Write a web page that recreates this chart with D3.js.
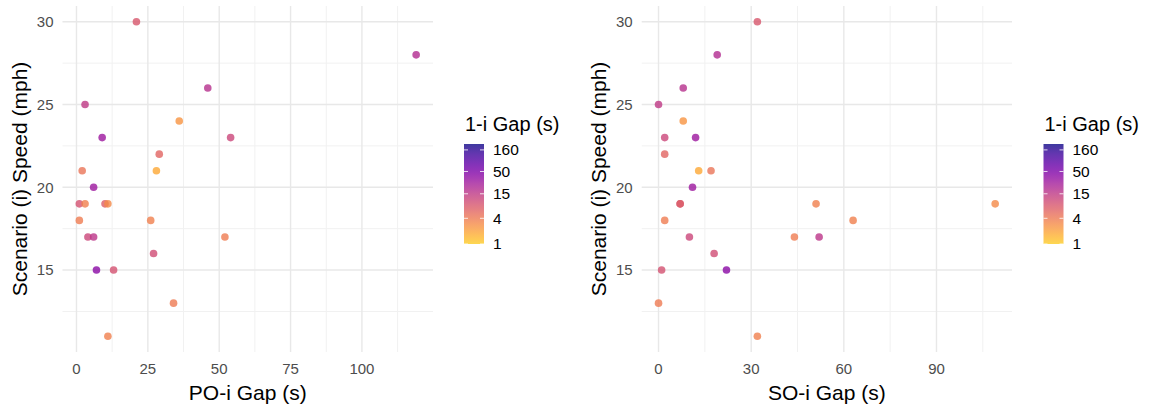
<!DOCTYPE html>
<html><head><meta charset="utf-8">
<script src="https://cdn.jsdelivr.net/npm/d3@7"></script>
<style>body{margin:0;background:#fff}svg{display:block;font-family:"Liberation Sans",Arial,sans-serif}</style>
</head><body>
<svg id="c" width="1150" height="406"></svg>
<script>
// Data (one row per observation)
const speed   = [30, 28, 26, 25, 24, 23, 23, 22, 21, 21, 20, 19, 19, 19, 19, 18, 18, 17, 17, 17, 16, 15, 15, 13, 11];
const poGap   = [21, 119, 46, 3, 36, 9, 54, 29, 2, 28, 6, 1, 3, 10, 11, 1, 26, 4, 6, 52, 27, 7, 13, 34, 11];
const soGap   = [32, 19, 8, 0, 8, 12, 2, 2, 17, 13, 11, 7, 51, 7, 109, 2, 63, 10, 52, 44, 18, 22, 1, 0, 32];
const gap1i   = [8, 20, 18, 15, 2.5, 30, 11, 6, 4.5, 1.8, 30, 9, 3.5, 7, 3, 3.8, 3.5, 11, 16, 3.8, 10, 40, 9, 4, 3.5];
const yTicks  = [15, 20, 25, 30];
const xTicksPO = [0, 25, 50, 75, 100];
const xTicksSO = [0, 30, 60, 90];
const legendTicks = [1, 4, 15, 50, 160];
const gapMin = 1, gapMax = 220;

const svg = d3.select("#c");
const rows = speed.map((s, i) => ({speed: s, po: poGap[i], so: soGap[i], g: gap1i[i]}));

const tScale = d3.scaleLog().domain([gapMin, gapMax]).range([0.9, 0]);
const color = v => d3.interpolatePlasma(tScale(v));
const ALPHA = 0.8;

function panel(opts) {
  const {x0, x1, xDomain, xTicks, xMinor, key, xTitle, legendX} = opts;
  const top = 6, bottom = 352;
  const x = d3.scaleLinear().domain(xDomain).range([x0, x1]);
  const y = d3.scaleLinear().domain([10.05, 30.95]).range([bottom, top]);
  const g = svg.append("g");
  const yMinor = [12.5, 17.5, 22.5, 27.5];
  // minor grid
  g.selectAll(null).data(xMinor).join("line")
    .attr("x1", d => x(d)).attr("x2", d => x(d)).attr("y1", top).attr("y2", bottom)
    .attr("stroke", "#f1f1f1").attr("stroke-width", 1);
  g.selectAll(null).data(yMinor).join("line")
    .attr("y1", d => y(d)).attr("y2", d => y(d)).attr("x1", x0).attr("x2", x1)
    .attr("stroke", "#f1f1f1").attr("stroke-width", 1);
  // major grid
  g.selectAll(null).data(xTicks).join("line")
    .attr("x1", d => x(d)).attr("x2", d => x(d)).attr("y1", top).attr("y2", bottom)
    .attr("stroke", "#e8e8e8").attr("stroke-width", 1.4);
  g.selectAll(null).data(yTicks).join("line")
    .attr("y1", d => y(d)).attr("y2", d => y(d)).attr("x1", x0).attr("x2", x1)
    .attr("stroke", "#e8e8e8").attr("stroke-width", 1.4);
  // tick labels
  g.selectAll(null).data(yTicks).join("text")
    .attr("x", x0 - 9).attr("y", d => y(d)).attr("dy", "0.35em")
    .attr("text-anchor", "end").attr("font-size", 15).attr("fill", "#4d4d4d").text(d => d);
  g.selectAll(null).data(xTicks).join("text")
    .attr("x", d => x(d)).attr("y", 369).attr("dy", "0.35em")
    .attr("text-anchor", "middle").attr("font-size", 15).attr("fill", "#4d4d4d").text(d => d);
  // titles
  g.append("text").attr("x", (x0 + x1) / 2).attr("y", 400)
    .attr("text-anchor", "middle").attr("font-size", 21).attr("fill", "#000").text(xTitle);
  g.append("text").attr("transform", `translate(${x0 - 36},${(top + bottom) / 2}) rotate(-90)`)
    .attr("text-anchor", "middle").attr("font-size", 21).attr("fill", "#000").text("Scenario (i) Speed (mph)");
  // points
  g.selectAll(null).data(rows).join("circle")
    .attr("cx", d => x(d[key])).attr("cy", d => y(d.speed)).attr("r", 3.8)
    .attr("fill", d => color(d.g)).attr("fill-opacity", ALPHA);

  // legend
  const lg = svg.append("g");
  const barTop = 144, barBot = 244, barW = 20;
  const ly = d3.scaleLog().domain([gapMin, gapMax]).range([barBot, barTop]);
  const gid = "grad" + key;
  const grad = svg.append("defs").append("linearGradient").attr("id", gid)
    .attr("x1", 0).attr("x2", 0).attr("y1", 1).attr("y2", 0);
  d3.range(0, 1.0001, 0.05).forEach(f => {
    const v = Math.exp(Math.log(gapMin) + f * (Math.log(gapMax) - Math.log(gapMin)));
    grad.append("stop").attr("offset", f).attr("stop-color", color(v)).attr("stop-opacity", ALPHA);
  });
  lg.append("text").attr("x", legendX + 1).attr("y", 131).attr("font-size", 20).attr("fill", "#000").text("1-i Gap (s)");
  lg.append("rect").attr("x", legendX).attr("y", barTop).attr("width", barW).attr("height", barBot - barTop)
    .attr("fill", `url(#${gid})`);
  legendTicks.forEach(t => {
    lg.append("line").attr("x1", legendX).attr("x2", legendX + 4).attr("y1", ly(t)).attr("y2", ly(t))
      .attr("stroke", "#fff").attr("stroke-opacity", 0.8);
    lg.append("line").attr("x1", legendX + barW - 4).attr("x2", legendX + barW).attr("y1", ly(t)).attr("y2", ly(t))
      .attr("stroke", "#fff").attr("stroke-opacity", 0.8);
  });
  lg.selectAll(null).data(legendTicks).join("text")
    .attr("x", legendX + 29).attr("y", d => ly(d)).attr("dy", "0.35em")
    .attr("font-size", 15.5).attr("fill", "#000").text(d => d);
}

panel({x0: 62.5, x1: 433, xDomain: [-4.9, 124.9], xTicks: xTicksPO, xMinor: [12.5, 37.5, 62.5, 87.5, 112.5],
  key: "po", xTitle: "PO-i Gap (s)", legendX: 464});
panel({x0: 641.7, x1: 1012, xDomain: [-5.45, 114.45], xTicks: xTicksSO, xMinor: [15, 45, 75, 105],
  key: "so", xTitle: "SO-i Gap (s)", legendX: 1043.5});
</script>
</body></html>
